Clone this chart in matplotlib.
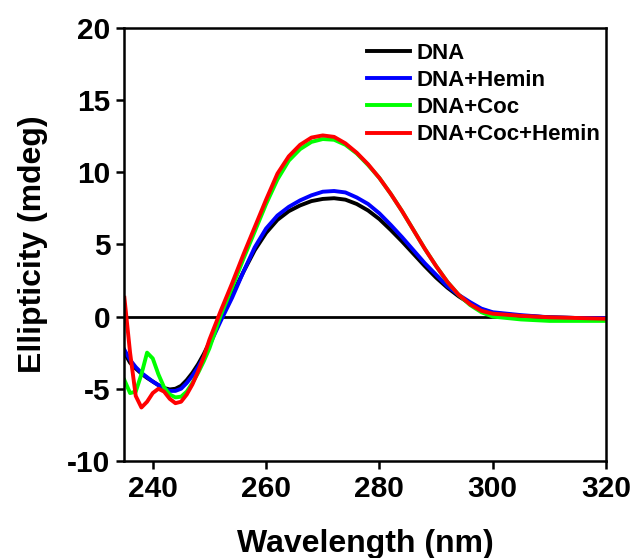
import matplotlib
matplotlib.use('Agg')
import matplotlib.pyplot as plt

plt.rcParams['font.family'] = ['Liberation Sans', 'DejaVu Sans']
plt.rcParams['font.weight'] = 'bold'
plt.rcParams['axes.unicode_minus'] = False

# wavelength (nm) and ellipticity (mdeg)
wavelength = [235, 236, 237, 238, 239, 240, 241, 242, 243, 244, 245, 246, 247, 248, 249, 250,
              252, 254, 256, 258, 260, 262, 264, 266, 268, 270, 272, 274, 276, 278, 280,
              282, 284, 286, 288, 290, 292, 294, 296, 298, 300, 305, 310, 315, 320]

dna = [-2.5, -3.2, -3.6, -3.95, -4.25, -4.5, -4.75, -4.95, -5.05, -5.0, -4.8, -4.4, -3.9, -3.3, -2.6, -1.8,
       -0.1, 1.5, 3.1, 4.6, 5.8, 6.7, 7.3, 7.7, 8.0, 8.15, 8.2, 8.1, 7.8, 7.35, 6.75,
       6.0, 5.2, 4.35, 3.5, 2.7, 2.0, 1.4, 0.9, 0.5, 0.25, 0.05, -0.05, -0.1, -0.1]

dna_hemin = [-2.3, -3.0, -3.5, -3.9, -4.2, -4.5, -4.75, -5.0, -5.15, -5.15, -5.0, -4.6, -4.1, -3.5, -2.8, -2.0,
             -0.3, 1.3, 3.1, 4.8, 6.1, 7.0, 7.6, 8.05, 8.4, 8.65, 8.7, 8.6, 8.25, 7.8, 7.15,
             6.35, 5.5, 4.6, 3.7, 2.9, 2.1, 1.5, 1.0, 0.55, 0.3, 0.1, -0.05, -0.1, -0.1]

dna_coc = [-4.4, -5.3, -5.2, -4.0, -2.5, -2.9, -4.0, -4.9, -5.4, -5.6, -5.55, -5.2, -4.6, -3.9, -3.1, -2.2,
           0.1, 2.0, 4.0, 5.9, 7.8, 9.5, 10.8, 11.6, 12.1, 12.3, 12.25, 11.9, 11.3, 10.5, 9.6,
           8.5, 7.3, 6.0, 4.7, 3.5, 2.4, 1.5, 0.8, 0.3, 0.0, -0.2, -0.3, -0.3, -0.3]

dna_coc_hemin = [1.3, -2.5, -5.5, -6.3, -5.9, -5.3, -5.0, -5.2, -5.7, -6.0, -5.9, -5.4, -4.7, -3.8, -2.8, -1.6,
                 0.4, 2.3, 4.3, 6.2, 8.1, 9.9, 11.1, 11.9, 12.4, 12.55, 12.45, 12.0, 11.35, 10.55, 9.6,
                 8.5, 7.3, 6.0, 4.7, 3.5, 2.4, 1.5, 0.85, 0.4, 0.2, 0.05, -0.05, -0.1, -0.15]

series = [('DNA', dna, 'black'),
          ('DNA+Hemin', dna_hemin, '#0000ff'),
          ('DNA+Coc', dna_coc, '#00ff00'),
          ('DNA+Coc+Hemin', dna_coc_hemin, '#ff0000')]

fig = plt.figure(figsize=(6.38, 5.58), dpi=100)
ax = fig.add_axes([0.195, 0.174, 0.755, 0.776])

ax.axhline(0, color='black', lw=2, zorder=1)
for name, vals, col in series:
    ax.plot(wavelength, vals, color=col, lw=2.8, label=name, zorder=2)

ax.set_xlim(235, 320)
ax.set_ylim(-10, 20)
ax.set_xticks([240, 260, 280, 300, 320])
ax.set_yticks([-10, -5, 0, 5, 10, 15, 20])

for s in ax.spines.values():
    s.set_linewidth(1.8)
ax.tick_params(axis='both', direction='out', width=1.8, length=6, labelsize=21.5, pad=4)

ax.set_xlabel('Wavelength (nm)', fontsize=23, fontweight='bold', labelpad=19)
ax.set_ylabel('Ellipticity (mdeg)', fontsize=23, fontweight='bold', labelpad=14)

ax.legend(loc='upper left', bbox_to_anchor=(0.503, 0.966), frameon=False, fontsize=16,
          handlelength=1.95, handletextpad=0.3, labelspacing=0.28, borderpad=0, borderaxespad=0)

fig.savefig('out.png', dpi=100)
